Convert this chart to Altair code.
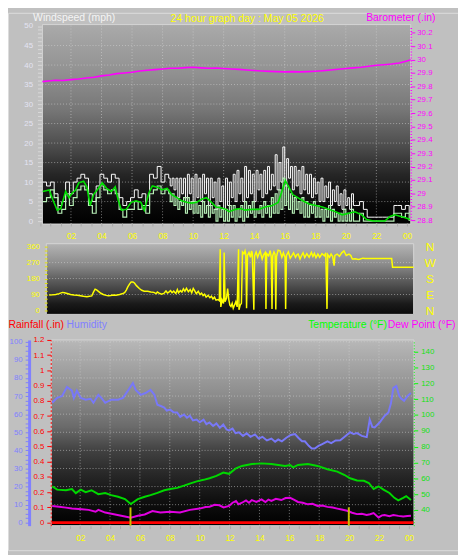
import altair as alt
import pandas as pd

# ---------------- data ----------------
# gust / speed are sampled on three grids: early (15 min), busy middle (7.5 min), late (15 min)
EARLY_T0, EARLY_DT = 0.15, 0.25
MID_T0, MID_DT = 8.5, 0.125
LATE_T0, LATE_DT = 20.65, 0.25
gust_early = [10, 9, 10, 7, 4, 5, 10, 7, 10, 11,
              12, 11, 7, 5, 9, 12, 11, 10, 12, 11,
              6, 4, 5, 6, 8, 6, 7, 4, 12, 11,
              14, 10, 12, 11]
gust_mid = [9, 11, 8, 11, 6, 11, 7, 11,
            6, 12, 7, 11, 5, 12, 6, 11,
            5, 12, 7, 11, 4, 11, 6, 10,
            3, 11, 5, 9, 3, 11, 4, 10,
            6, 12, 5, 13, 7, 11, 5, 14,
            6, 13, 7, 12, 5, 13, 8, 12,
            6, 13, 7, 14, 8, 12, 9, 17,
            8, 15, 10, 19, 9, 16, 11, 14,
            8, 14, 9, 13, 7, 14, 8, 12,
            7, 12, 6, 11, 7, 10, 5, 11,
            5, 9, 6, 10, 4, 8, 5, 9,
            4, 7, 3, 8, 4, 6, 3, 7, 4]
gust_late = [4, 5, 3, 1, 1, 1, 1, 1, 1, 1, 4, 4, 3, 4, 2]
speed_early = [5, 6, 8, 6, 2, 3, 7, 4, 6, 8,
               9, 8, 4, 2, 6, 9, 8, 7, 8, 7,
               3, 1, 3, 3, 5, 3, 4, 2, 7, 8,
               9, 7, 8, 7]
speed_mid = [5, 7, 4, 6, 3, 5, 4, 6,
             2, 6, 3, 5, 2, 5, 2, 4,
             1, 5, 2, 4, 1, 4, 2, 3,
             0, 4, 1, 3, 0, 3, 0, 4,
             1, 4, 0, 3, 1, 4, 0, 5,
             1, 4, 2, 5, 1, 3, 2, 4,
             1, 5, 2, 4, 1, 6, 2, 7,
             2, 8, 3, 11, 4, 9, 3, 7,
             2, 6, 3, 5, 2, 6, 1, 5,
             1, 4, 2, 5, 1, 4, 1, 3,
             0, 3, 1, 4, 0, 3, 1, 2,
             0, 2, 0, 3, 0, 2, 0, 3, 0]
speed_late = [0, 2, 0, 0, 0, 0, 0, 0, 0, 0, 2, 2, 1, 2, 0]
avg_wind = [(0.15, 7.6), (0.58, 8), (0.8, 5.6), (1.1, 2.8), (1.33, 3.2), (1.65, 7.6), (1.87, 6), (2.08, 7.2),
            (2.29, 7.9), (2.51, 9.8), (2.83, 10.2), (3.04, 8.8), (3.26, 4), (3.48, 6.8), (3.8, 8.4), (4.05, 9.8),
            (4.33, 8.4), (4.65, 7.6), (4.9, 8.8), (5.08, 5.6), (5.3, 2.8), (5.62, 3), (5.94, 4.8), (6.26, 5.2),
            (6.58, 4.8), (6.8, 2.8), (7.1, 7.2), (7.33, 9), (7.65, 8.7), (7.97, 8), (8.3, 8.4), (8.6, 6.8),
            (8.94, 6), (9.26, 5.2), (9.58, 4.8), (9.9, 4.6), (10.23, 4.8), (10.55, 5.6), (10.87, 6), (11.2, 4.8),
            (11.5, 3.6), (11.83, 3.4), (12.15, 3), (12.35, 2.4), (12.78, 3), (13.1, 3.2), (13.4, 2.8), (13.85, 3),
            (14.3, 3), (14.7, 3.6), (15.14, 3.9), (15.57, 4.8), (15.78, 7.2), (16.04, 10.4), (16.25, 8.8),
            (16.53, 6.8), (16.85, 6), (17.18, 5.2), (17.6, 4.4), (18.03, 4), (18.47, 3.6), (18.9, 3), (19.33, 2.4),
            (19.76, 1.6), (20.19, 2), (20.6, 2.4), (21.04, 1.6), (21.36, 0.4), (21.8, 0), (22.22, 0), (22.55, 0),
            (22.9, 1.2), (23.2, 1.6), (23.6, 1.2), (23.95, 0.8), (24.2, 0.4)]
barometer = [(0.13, 29.835), (0.5, 29.84), (1, 29.845), (1.5, 29.843), (2, 29.85), (2.5, 29.855), (3, 29.862),
             (3.5, 29.868), (4, 29.878), (4.5, 29.885), (5, 29.895), (5.5, 29.9), (6, 29.905), (6.5, 29.915),
             (7, 29.92), (7.5, 29.925), (8, 29.93), (8.5, 29.935), (9, 29.935), (9.5, 29.94), (10, 29.942),
             (10.5, 29.938), (11, 29.935), (11.5, 29.937), (12, 29.933), (12.5, 29.93), (13, 29.927),
             (13.5, 29.922), (14, 29.918), (14.5, 29.915), (15, 29.912), (15.5, 29.91), (16, 29.908),
             (16.5, 29.91), (17, 29.908), (17.5, 29.91), (18, 29.913), (18.5, 29.917), (19, 29.922),
             (19.5, 29.928), (20, 29.933), (20.5, 29.938), (21, 29.943), (21.5, 29.95), (22, 29.958),
             (22.5, 29.962), (23, 29.967), (23.5, 29.975), (24, 29.99), (24.25, 29.998)]
direction = [(0.19, 87), (0.4, 88), (0.62, 90), (0.85, 95), (1.06, 102), (1.2, 100), (1.38, 96), (1.6, 90),
             (1.82, 87), (2.05, 86), (2.25, 83), (2.45, 80), (2.68, 78), (2.85, 80), (3.0, 82), (3.12, 105),
             (3.22, 120), (3.32, 116), (3.44, 108), (3.6, 97), (3.76, 90), (3.95, 85), (4.09, 83), (4.25, 84),
             (4.41, 87), (4.6, 86), (4.84, 90), (5.0, 94), (5.17, 101), (5.28, 115), (5.38, 133), (5.5, 150),
             (5.6, 160), (5.72, 160), (5.82, 155), (5.95, 140), (6.14, 124), (6.3, 114), (6.46, 109), (6.7, 108),
             (6.9, 104), (7.1, 102), (7.25, 95), (7.33, 104), (7.45, 98), (7.6, 92), (7.76, 96), (7.9, 110),
             (8.0, 99), (8.09, 104), (8.2, 112), (8.3, 100), (8.41, 109), (8.55, 96), (8.65, 118), (8.73, 100),
             (8.85, 112), (8.95, 104), (9.05, 122), (9.15, 108), (9.25, 125), (9.38, 106), (9.5, 118), (9.6, 100),
             (9.7, 124), (9.8, 110), (9.9, 95), (10.03, 108), (10.15, 90), (10.25, 98), (10.35, 84), (10.45, 92),
             (10.55, 75), (10.68, 85), (10.8, 72), (10.9, 80), (11.0, 65), (11.1, 75), (11.2, 58), (11.33, 62),
             (11.42, 55), (11.48, 345), (11.52, 20), (11.6, 60), (11.7, 40), (11.74, 327), (11.8, 50), (11.9, 70),
             (11.97, 124), (12.05, 60), (12.12, 30), (12.19, 22), (12.27, 40), (12.34, 13), (12.42, 30),
             (12.51, 50), (12.6, 20), (12.69, 345), (12.72, 4), (12.8, 30), (12.88, 40), (12.95, 330),
             (13.05, 320), (13.12, 336), (13.17, 318), (13.22, 13), (13.28, 310), (13.38, 327), (13.48, 300),
             (13.55, 336), (13.6, 320), (13.7, 4), (13.75, 308), (13.85, 330), (13.95, 300), (14.03, 318),
             (14.12, 335), (14.25, 290), (14.35, 315), (14.46, 327), (14.5, 8), (14.55, 320), (14.68, 308),
             (14.78, 338), (14.85, 300), (14.9, 9), (14.95, 310), (15.03, 330), (15.1, 318), (15.15, 6),
             (15.2, 305), (15.3, 340), (15.43, 336), (15.55, 300), (15.65, 325), (15.76, 299), (15.8, 8),
             (15.85, 310), (15.98, 330), (16.1, 295), (16.2, 308), (16.32, 325), (16.45, 300), (16.55, 315),
             (16.63, 318), (16.75, 290), (16.85, 310), (16.95, 325), (17.06, 299), (17.2, 320), (17.35, 300),
             (17.5, 327), (17.6, 305), (17.7, 322), (17.8, 298), (17.93, 318), (18.05, 300), (18.2, 320),
             (18.36, 308), (18.45, 325), (18.53, 9), (18.58, 315), (18.7, 300), (18.8, 318), (18.9, 305),
             (19.0, 253), (19.05, 310), (19.2, 318), (19.35, 305), (19.5, 325), (19.65, 336), (19.8, 310),
             (19.98, 318), (20.1, 310), (20.2, 290), (20.4, 292), (20.6, 288), (20.73, 290), (20.9, 295),
             (21.05, 293), (21.3, 293), (21.6, 293), (22.2, 293), (22.8, 293), (22.86, 244), (23.5, 244),
             (24.25, 244)]
humidity = [(0.13, 66.3), (0.46, 69), (0.79, 70), (1.12, 75), (1.45, 73), (1.58, 69), (1.78, 73), (2.04, 69),
            (2.37, 68), (2.7, 68.5), (2.89, 66.3), (3.22, 70.7), (3.42, 69), (3.68, 66.3), (4.08, 68), (4.54, 68),
            (4.87, 69), (5.2, 73), (5.53, 77.2), (5.72, 73.4), (6.05, 70.7), (6.38, 71.7), (6.71, 73.4),
            (6.97, 70.7), (7.17, 65.2), (7.4, 64.5), (7.63, 63.6), (7.8, 62), (8.03, 62.5), (8.25, 61),
            (8.49, 60.9), (8.7, 58.5), (8.95, 59.8), (9.15, 58), (9.34, 59.2), (9.55, 56.5), (9.8, 57),
            (10.0, 55.5), (10.26, 57), (10.45, 54.5), (10.66, 55.4), (10.9, 53.5), (11.12, 54.9), (11.35, 52.5),
            (11.58, 54.3), (11.8, 51.5), (11.97, 51), (12.2, 52), (12.4, 49.5), (12.63, 50), (12.9, 48),
            (13.15, 49.5), (13.4, 47.5), (13.7, 48.8), (13.95, 46.5), (14.2, 47.5), (14.5, 45.5), (14.8, 46.5),
            (15.05, 44.8), (15.26, 46), (15.5, 45), (15.8, 47), (16.1, 48.5), (16.38, 49), (16.6, 47),
            (16.85, 45), (17.04, 45), (17.3, 42.5), (17.5, 41), (17.7, 41), (17.95, 42.5), (18.2, 43.5),
            (18.55, 45), (18.8, 44), (19.1, 45.5), (19.41, 45.6), (19.7, 47.5), (20.07, 50), (20.3, 49),
            (20.53, 49.5), (20.85, 48), (21.18, 47.3), (21.38, 57), (21.55, 53), (21.71, 52.7), (22.04, 55.4),
            (22.37, 59), (22.63, 60.9), (22.8, 66), (22.96, 74.5), (23.16, 75.5), (23.36, 70), (23.5, 68.5),
            (23.68, 67.4), (23.9, 70), (24.14, 71.7)]
temperature = [(0.13, 54.9), (0.46, 52.8), (1.05, 52.4), (1.45, 53.2), (1.71, 50.6), (2.04, 52.8), (2.37, 51.2),
               (2.76, 52.4), (3.22, 49.9), (3.68, 50.6), (4.08, 49.3), (4.54, 48.3), (5.0, 46.8), (5.39, 43.7),
               (5.86, 46.8), (6.32, 48.3), (6.71, 49.3), (7.17, 50.7), (7.63, 52.4), (8.03, 53.2), (8.49, 53.9),
               (8.95, 55.3), (9.34, 56.6), (9.8, 58), (10.26, 59), (10.66, 60), (11.12, 61.5), (11.58, 63.6),
               (11.97, 62.8), (12.43, 66.3), (12.83, 67.8), (13.49, 69), (14.14, 69.4), (14.8, 69), (15.26, 68.4),
               (15.72, 67.8), (16.05, 68.4), (16.25, 66.9), (16.58, 68.4), (17.24, 69), (17.89, 67.8),
               (18.55, 65.7), (19.21, 64.2), (19.67, 62.2), (20.07, 60), (20.53, 58.6), (20.99, 58.4), (21.32, 57),
               (21.64, 53.2), (21.97, 54.9), (22.3, 52.8), (22.7, 50.7), (23.03, 47.6), (23.29, 46), (23.62, 47.6),
               (23.82, 48.7), (24.14, 46.2)]
dew_point = [(0.13, 42.5), (0.59, 42), (1.05, 41.4), (1.45, 40.8), (2.11, 40.4), (2.57, 40), (3.03, 38.8),
             (3.22, 40), (3.68, 38.3), (4.34, 37.1), (5.0, 35.8), (5.39, 35), (5.86, 36.3), (6.32, 37.1),
             (6.84, 39.2), (7.37, 38.3), (8.03, 38.8), (8.68, 38.3), (9.34, 40), (10.0, 40.8), (10.4, 41.8),
             (10.66, 42), (11.0, 43.2), (11.32, 42.9), (11.6, 41.5), (11.97, 42.5), (12.2, 44.5), (12.43, 45.6),
             (12.6, 43.5), (12.83, 44.5), (13.1, 46), (13.3, 44.5), (13.49, 46.2), (13.8, 45), (14.14, 46.6),
             (14.4, 45), (14.6, 46.5), (14.8, 45.6), (15.1, 47), (15.46, 46.2), (15.75, 47.5), (16.05, 47.6),
             (16.3, 46.5), (16.58, 45), (16.9, 44.5), (17.24, 43.5), (17.55, 43.8), (17.89, 42.5), (18.2, 42.8),
             (18.55, 41.9), (18.9, 41.5), (19.21, 40.8), (19.5, 40.2), (19.87, 39.4), (20.2, 38.2), (20.53, 37.3),
             (20.85, 37.5), (21.18, 36.7), (21.4, 37.2), (21.64, 38), (21.97, 35.2), (22.2, 36.5), (22.37, 36.7),
             (22.7, 36), (22.96, 36.7), (23.3, 36.2), (23.62, 35.8), (23.9, 36.1), (24.14, 36.3)]
rainfall = [(0.1, 0), (6, 0), (12, 0), (18, 0), (24.3, 0)]
sun_marks = [5.37, 19.98]

hour_ticks = [i * 2 / 3 for i in range(37)]
hour_grid = [2, 4, 6, 8, 10, 12, 14, 16, 18, 20, 22]
wind_ticks = list(range(0, 51))
wind_grid = [5, 10, 15, 20, 25, 30, 35, 40, 45]
baro_ticks = [28.8, 28.9, 29.0, 29.1, 29.2, 29.3, 29.4, 29.5, 29.6, 29.7, 29.8, 29.9, 30.0, 30.1, 30.2]
dir_ticks = [0, 22.5, 45, 67.5, 90, 112.5, 135, 157.5, 180, 202.5, 225, 247.5, 270, 292.5, 315, 337.5, 360]
dir_labels = [0, 90, 180, 270, 360]
dir_grid = [90, 180, 270]
rain_ticks = [0, 0.1, 0.2, 0.3, 0.4, 0.5, 0.6, 0.7, 0.8, 0.9, 1, 1.1, 1.2]
hum_ticks = [i * 2.5 for i in range(41)]
hum_grid = [10, 20, 30, 40, 50, 60, 70, 80, 90, 100]
temp_ticks = [40, 50, 60, 70, 80, 90, 100, 110, 120, 130, 140]

TITLE = "24 hour graph day : May 05 2026"
FONT = "Liberation Sans"

# ---------------- scales (pixel layout of the three panels) ----------------
def sc(dom, rng):
    return alt.Scale(domain=dom, range=rng, nice=False, zero=False)

XT = ([0, 24], [33, 406]);        YW = ([0, 50], [212, 13.5]);   YB = ([28.8, 30.25], [211, 13.6])
XM = ([0, 24], [39, 409]);        YD = ([0, 360], [303, 238])
XB = ([0, 24], [43, 408]);        YR = ([-0.02, 1.2], [522, 333])
YH = ([-1.6, 101], [522, 333]);   YT = ([30, 147.5], [522, 333])

HOUR_EXPR = ("abs(datum.value - 2 * round(datum.value / 2)) < 0.01 && datum.value > 1 ? "
             "(datum.value > 23 ? '00' : (round(datum.value) < 10 ? '0' + round(datum.value) : '' + round(datum.value))) : ''")

one = pd.DataFrame({"k": [0]})


def grad(stops):
    return {"gradient": "linear", "x1": 0, "x2": 0, "y1": 0, "y2": 1,
            "stops": [{"offset": o, "color": c} for o, c in stops]}


def bg(xs, ys, x0, x1, y0, y1, stops, yaxis=None):
    return alt.Chart(one).mark_rect(fill=grad(stops), stroke="#d4d4d4", strokeWidth=1).encode(
        x=alt.X(datum=x0, type="quantitative", scale=sc(*xs), axis=None),
        x2=alt.X2(datum=x1),
        y=alt.Y(datum=y1, type="quantitative", scale=sc(*ys), axis=yaxis),
        y2=alt.Y2(datum=y0),
    )


def vgrid(xs, ys, y0, y1, hours):
    return alt.Chart(pd.DataFrame({"h": hours})).mark_rule(
        color="#d8d8d8", strokeDash=[1, 2], opacity=0.55, strokeWidth=1).encode(
        x=alt.X("h:Q", scale=sc(*xs), axis=None),
        y=alt.Y(datum=y0, type="quantitative", scale=sc(*ys), axis=None),
        y2=alt.Y2(datum=y1),
    )


def hgrid(xs, ys, x0, x1, vals):
    return alt.Chart(pd.DataFrame({"v": vals})).mark_rule(
        color="#d8d8d8", strokeDash=[1, 2], opacity=0.55, strokeWidth=1).encode(
        y=alt.Y("v:Q", scale=sc(*ys), axis=None),
        x=alt.X(datum=x0, type="quantitative", scale=sc(*xs), axis=None),
        x2=alt.X2(datum=x1),
    )


def line(pairs, xs, ys, color, width, xaxis=None, yaxis=None, interp="linear"):
    df = pd.DataFrame(pairs, columns=["h", "v"])
    return alt.Chart(df).mark_line(color=color, strokeWidth=width, interpolate=interp).encode(
        x=alt.X("h:Q", scale=sc(*xs), axis=xaxis),
        y=alt.Y("v:Q", scale=sc(*ys), axis=yaxis),
    )


def sampled(t0, dt, vals):
    return [(round(t0 + dt * i, 3), v) for i, v in enumerate(vals)]


TTL = dict(titleFontSize=10.6, titleFontWeight="normal", titleAngle=0, titleAlign="left",
           titleBaseline="top", zindex=1)

# ---------------- axes ----------------
top_x_axis = alt.Axis(orient="bottom", offset=-333, values=hour_ticks, labelExpr=HOUR_EXPR,
                      labelOverlap=False, labelFlush=False, tickSize=3, tickColor="#a8a8a8",
                      domain=False, grid=False, labelColor="#ffff00", labelFontSize=8.5, labelPadding=6,
                      title=TITLE, titleColor="#ffff00", titleFontSize=10.6, titleFontWeight="normal",
                      titleX=243, titleY=-213, titleAlign="center", titleBaseline="top", zindex=1)
bot_x_axis = alt.Axis(orient="bottom", offset=-25, values=hour_ticks, labelExpr=HOUR_EXPR,
                      labelOverlap=False, labelFlush=False, tickSize=3, tickColor="#a8a8a8",
                      domain=False, grid=False, labelColor="#ffff00", labelFontSize=8.5,
                      labelPadding=5, zindex=1, title=None)
wind_axis = alt.Axis(orient="left", offset=-34, values=wind_ticks, format="d",
                     labelExpr="datum.value % 5 == 0 ? datum.label : ''", labelOverlap=False,
                     tickSize=4, tickColor="#d8d8d8", domain=False, grid=False,
                     labelColor="#e4e4f4", labelFontSize=8, labelPadding=5,
                     title="Windspeed (mph)", titleColor="#f4f4f4", titleX=-9, titleY=0, **TTL)
baro_axis = alt.Axis(orient="right", offset=-48, values=baro_ticks, format="~g", labelOverlap=False,
                     tickSize=4, tickColor="#ff00ff", domain=True, domainColor="#ff00ff",
                     domainDash=[1, 2], domainWidth=1.5, grid=False, labelColor="#ff00ff",
                     labelFontSize=8, labelPadding=2, title="Barometer (.in)", titleColor="#ff00ff",
                     titleX=-46, titleY=0, **TTL)
dir_axis = alt.Axis(orient="left", offset=-40, values=dir_ticks, format="d",
                    labelExpr="datum.value % 90 == 0 ? datum.label : ''", labelOverlap=False,
                    tickSize=3, tickColor="#e0e000", domain=False, grid=False, labelColor="#ffff00",
                    labelFontSize=8, labelPadding=5, title=None, zindex=1)
compass_axis = alt.Axis(orient="right", offset=-29, values=dir_labels,
                        labelExpr="['N','E','S','W','N'][round(datum.value / 90)]", labelOverlap=False,
                        ticks=False, tickSize=0, domain=False, grid=False, labelColor="#ffff00",
                        labelFontSize=12, labelAlign="center", labelPadding=0, title=None, zindex=1)
hum_axis = alt.Axis(orient="left", offset=-21.5, values=hum_ticks, format="d",
                    labelExpr="datum.value % 10 == 0 ? datum.label : ''", labelOverlap=False,
                    tickSize=4, tickColor="#8080ff", domain=True, domainColor="#8080ff", domainWidth=3,
                    grid=False, labelColor="#8080ff", labelFontSize=8, labelPadding=3,
                    title="Humidity", titleColor="#8080ff", titleX=37.5, titleY=312, **TTL)
rain_axis = alt.Axis(orient="left", offset=-43.5, values=rain_ticks, format="~g", labelOverlap=False,
                     tickSize=4, tickColor="#ff0000", domain=True, domainColor="#ff0000",
                     domainDash=[2, 2], grid=False, labelColor="#ff0000", labelFontSize=8, labelPadding=3,
                     title="Rainfall (.in)", titleColor="#ff0000", titleX=-43.5, titleY=312, **TTL)
temp_axis = alt.Axis(orient="right", offset=-45, values=temp_ticks, format="d", labelOverlap=False,
                     tickSize=4, tickColor="#00ff00", domain=True, domainColor="#00ff00",
                     domainDash=[1, 2], grid=False, labelColor="#10e010", labelFontSize=8, labelPadding=3,
                     title="Temperature (°F)", titleColor="#00ff00", titleX=-108, titleY=312, **TTL)
dew_axis = alt.Axis(orient="right", offset=-45, labels=False, ticks=False, domain=False, grid=False,
                    title="Dew Point (°F)", titleColor="#ff00ff", titleX=-27, titleY=312, **TTL)

# ---------------- layers ----------------
gust_pts = (sampled(EARLY_T0, EARLY_DT, gust_early) + sampled(MID_T0, MID_DT, gust_mid)
            + sampled(LATE_T0, LATE_DT, gust_late))
speed_pts = (sampled(EARLY_T0, EARLY_DT, speed_early) + sampled(MID_T0, MID_DT, speed_mid)
             + sampled(LATE_T0, LATE_DT, speed_late))

layers = [
    bg(XT, YW, 0.13, 24.25, -0.76, 50.38,
       [(0, "#aaaaaa"), (0.25, "#909090"), (0.43, "#767676"), (0.62, "#4a4a4a"),
        (0.75, "#262626"), (0.9, "#0a0a0a"), (1, "#000000")]),
    bg(XM, YD, 0.0, 24.25, -22, 376.6,
       [(0, "#b4b4b4"), (0.3, "#8a8a8a"), (0.5, "#606060"), (0.7, "#3a3a3a"),
        (0.85, "#1a1a1a"), (1, "#0a0a0a")], yaxis=compass_axis),
    bg(XB, YR, 0.07, 24.34, -0.02, 1.2,
       [(0, "#b8b8b8"), (0.31, "#8a8a8a"), (0.47, "#6a6a6a"), (0.6, "#404040"),
        (0.72, "#282828"), (0.86, "#101010"), (1, "#000000")]),
    vgrid(XT, YW, -0.76, 50.38, hour_grid),
    hgrid(XT, YW, 0.13, 24.25, wind_grid),
    hgrid(XM, YD, 0.0, 24.25, dir_grid),
    vgrid(XB, YH, -1.6, 101, hour_grid),
    hgrid(XB, YH, 0.07, 24.34, hum_grid),
    line(barometer, XT, YB, "#ff00ff", 1.6, yaxis=baro_axis),
    line(gust_pts, XT, YW, "#ffffff", 1, xaxis=top_x_axis, yaxis=wind_axis, interp="step-after"),
    line(speed_pts, XT, YW, "#b8f0b8", 1.2, interp="step-after"),
    line(avg_wind, XT, YW, "#00e000", 1.6),
    line(direction, XM, YD, "#ffff00", 1.5, yaxis=dir_axis),
    line(humidity, XB, YH, "#7878f8", 2, xaxis=bot_x_axis, yaxis=hum_axis),
    line(temperature, XB, YT, "#00d800", 2, yaxis=temp_axis),
    line(dew_point, XB, YT, "#e000e0", 2, yaxis=dew_axis),
    line(rainfall, XB, YR, "#ff0000", 3, yaxis=rain_axis),
    alt.Chart(pd.DataFrame({"h": sun_marks})).mark_rule(color="#c8c000", strokeWidth=2).encode(
        x=alt.X("h:Q", scale=sc(*XB), axis=None),
        y=alt.Y(datum=0.1, type="quantitative", scale=sc(*YR), axis=None),
        y2=alt.Y2(datum=-0.02),
    ),
]

chart = alt.layer(*layers).resolve_scale(x="independent", y="independent").properties(
    width=458, height=547, padding=0, autosize=alt.AutoSizeParams(type="none"),
    background="#c0c0c0",
).configure_view(stroke=None).configure_axis(labelFont=FONT, titleFont=FONT).configure(font=FONT)

chart.save("out.html", embed_options={"renderer": "svg", "actions": False})
